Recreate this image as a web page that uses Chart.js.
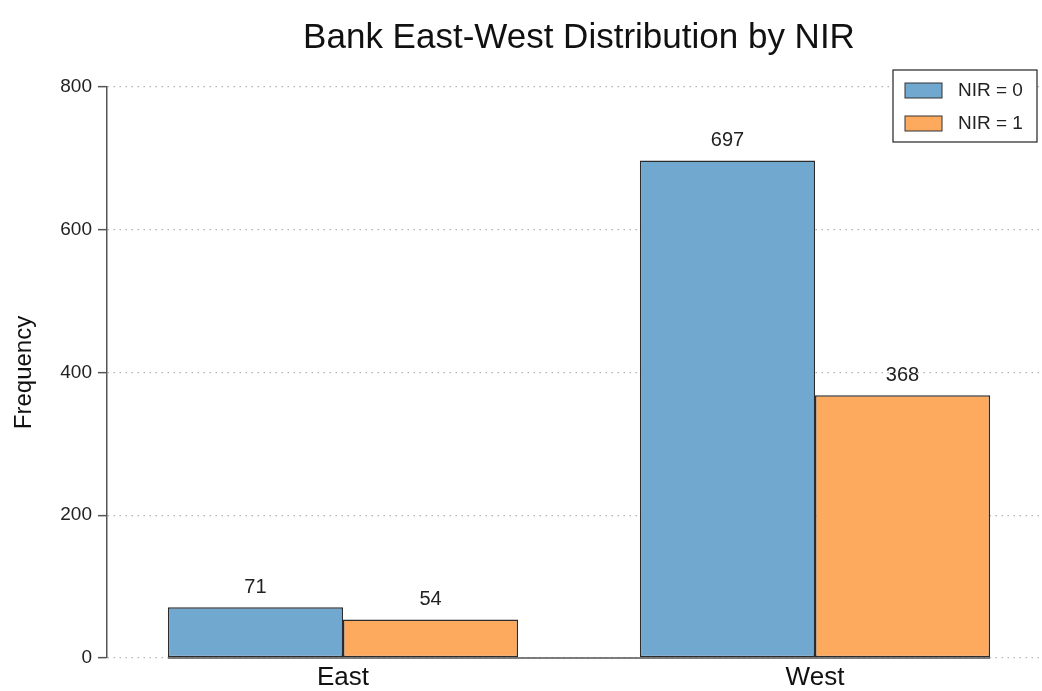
<!DOCTYPE html>
<html>
<head>
<meta charset="utf-8">
<script src="https://cdn.jsdelivr.net/npm/chart.js@4.4.1/dist/chart.umd.min.js"></script>
<style>
  html, body { margin: 0; padding: 0; background: #fff; overflow: hidden; }
  #wrap { width: 1060px; height: 691px; position: relative; }
</style>
</head>
<body>
<div id="wrap"><canvas id="nirChart"></canvas></div>
<script>
const regions = ['East', 'West'];
const nir0 = [71, 697];
const nir1 = [54, 368];
const seriesNames = ['NIR = 0', 'NIR = 1'];
const yTicks = [0, 200, 400, 600, 800];

const blue = '#70a8d0';
const orange = '#fdaa5f';
const font = '"Liberation Sans", Arial, Helvetica, sans-serif';

// value labels above each bar
const valueLabels = {
  id: 'valueLabels',
  afterDatasetsDraw(chart) {
    const ctx = chart.ctx;
    ctx.save();
    ctx.font = '20px ' + font;
    ctx.fillStyle = '#222';
    ctx.textAlign = 'center';
    ctx.textBaseline = 'middle';
    chart.data.datasets.forEach((ds, i) => {
      chart.getDatasetMeta(i).data.forEach((bar, j) => {
        ctx.fillText(ds.data[j], bar.x, bar.y - 20);
      });
    });
    ctx.restore();
  }
};

// x axis line trimmed to the bars, legend box inside the plot
const extras = {
  id: 'extras',
  afterDraw(chart) {
    const ctx = chart.ctx;
    const first = chart.getDatasetMeta(0).data[0];
    const last = chart.getDatasetMeta(1).data[regions.length - 1];
    const yb = chart.chartArea.bottom;
    ctx.save();
    ctx.strokeStyle = '#555';
    ctx.lineWidth = 1.5;
    ctx.beginPath();
    ctx.moveTo(first.x - first.width / 2, yb);
    ctx.lineTo(last.x + last.width / 2, yb);
    ctx.stroke();

    // legend
    const lx = 893, ly = 70, lw = 144, lh = 72;
    ctx.fillStyle = '#fff';
    ctx.fillRect(lx, ly, lw, lh);
    ctx.strokeStyle = '#222';
    ctx.lineWidth = 1.2;
    ctx.strokeRect(lx, ly, lw, lh);
    ctx.font = '19px ' + font;
    ctx.textBaseline = 'middle';
    ctx.textAlign = 'left';
    chart.data.datasets.forEach((ds, i) => {
      const y = ly + 20 + i * 33;
      ctx.fillStyle = ds.backgroundColor;
      ctx.fillRect(lx + 12, y - 7, 37, 15);
      ctx.strokeStyle = '#333';
      ctx.lineWidth = 1;
      ctx.strokeRect(lx + 12, y - 7, 37, 15);
      ctx.fillStyle = '#222';
      ctx.fillText(ds.label, lx + 65, y + 1);
    });
    ctx.restore();
  }
};

new Chart(document.getElementById('nirChart'), {
  type: 'bar',
  data: {
    labels: regions,
    datasets: [
      {
        label: seriesNames[0],
        data: nir0,
        backgroundColor: blue,
        borderColor: '#2b2b2b',
        borderWidth: 1.5,
        borderSkipped: false
      },
      {
        label: seriesNames[1],
        data: nir1,
        backgroundColor: orange,
        borderColor: '#2b2b2b',
        borderWidth: 1.5,
        borderSkipped: false
      }
    ]
  },
  options: {
    responsive: true,
    maintainAspectRatio: false,
    animation: false,
    devicePixelRatio: 1,
    barPercentage: 1.0,
    categoryPercentage: 0.742,
    layout: { padding: { left: 0, right: 9, top: 0, bottom: 0 } },
    plugins: {
      legend: { display: false },
      tooltip: { enabled: false },
      title: {
        display: true,
        fullSize: false,
        text: 'Bank East-West Distribution by NIR',
        color: '#111',
        font: { family: font, size: 35, weight: 'normal' },
        padding: { top: 17, bottom: 28 }
      }
    },
    scales: {
      x: {
        grid: { display: false, drawTicks: false },
        border: { display: false },
        ticks: {
          color: '#111',
          padding: 4,
          font: { family: font, size: 26 }
        },
        afterFit: scale => { scale.height = 33; }
      },
      y: {
        min: 0,
        max: 800,
        afterBuildTicks: scale => {
          scale.ticks = yTicks.map(v => ({ value: v }));
        },
        grid: {
          color: '#b4b4b4',
          lineWidth: 1.3,
          drawTicks: true,
          tickLength: 9,
          tickColor: '#555',
          tickWidth: 1.5,
          tickBorderDash: []
        },
        border: { display: true, color: '#555', width: 1.5, dash: [1.5, 4.5] },
        ticks: {
          color: '#222',
          padding: 6,
          font: { family: font, size: 19 }
        },
        title: {
          display: true,
          text: 'Frequency',
          color: '#111',
          font: { family: font, size: 24 },
          padding: { top: 10, bottom: 0 }
        },
        afterFit: scale => { scale.width = 107; }
      }
    }
  },
  plugins: [valueLabels, extras]
});
</script>
</body>
</html>
